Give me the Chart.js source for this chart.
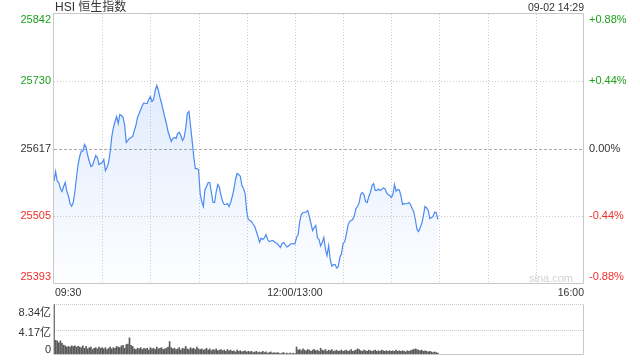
<!DOCTYPE html>
<html><head><meta charset="utf-8">
<script src="https://cdn.jsdelivr.net/npm/chart.js@4/dist/chart.umd.min.js"></script>
<style>
html,body{margin:0;padding:0;background:#fff;width:640px;height:360px;overflow:hidden}
#c1{position:absolute;left:0;top:0}
#c2{position:absolute;left:0;top:300px}
</style></head><body>
<canvas id="c1" width="640" height="300"></canvas>
<canvas id="c2" width="640" height="60"></canvas>
<script>
// ---------- data ----------
const chartTitle = 'HSI 恒生指数';
const stampText = '09-02 14:29';
const watermark = 'sina.com';
const prevClose = 25617;
const priceMin = 25391.6, priceMax = 25842.4;
const priceTicks = [25842, 25730, 25617, 25505, 25393];
const pctTicks = ['+0.88%', '+0.44%', '0.00%', '-0.44%', '-0.88%'];
const gridMinutes = [30, 60, 90, 120, 150, 180, 210, 240, 270, 300];
const timeTickPos = [0, 150, 330];
const timeTickLabels = ['09:30', '12:00/13:00', '16:00'];
const totalMinutes = 330;
const volTicks = [8.34, 4.17, 0];
const volTickLabels = ['8.34亿', '4.17亿', '0'];

// one value per trading minute from 09:30 (12:00 and 13:00 share a slot)
const prices = [
25563.2,25579.4,25563.2,25561.1,25551.0,25546.0,25554.4,25561.1,25546.0,25538.5,
25526.0,25521.5,25527.7,25546.0,25569.4,25591.1,25604.5,25613.3,25613.3,25624.5,
25619.5,25606.1,25596.1,25587.8,25589.4,25597.8,25606.1,25602.8,25591.1,25592.8,
25594.5,25599.5,25581.1,25586.1,25594.5,25613.3,25637.9,25652.9,25662.9,25671.3,
25659.6,25674.6,25672.9,25669.6,25656.2,25627.9,25631.2,25634.5,25636.2,25637.9,
25647.9,25656.2,25669.6,25676.3,25683.0,25689.6,25693.8,25693.0,25693.0,25699.7,
25704.7,25696.3,25699.7,25714.7,25723.0,25714.7,25703.0,25693.0,25681.3,25669.6,
25659.6,25646.2,25637.9,25629.5,25634.5,25636.2,25634.5,25642.9,25644.6,25639.5,
25631.2,25636.2,25651.2,25676.3,25679.6,25656.2,25631.2,25604.5,25584.4,25584.4,
25582.8,25542.7,25529.3,25521.0,25549.4,25554.4,25561.1,25561.1,25544.4,25527.7,
25527.7,25546.0,25557.7,25552.7,25539.3,25529.3,25524.3,25524.3,25526.0,25521.0,
25527.7,25537.7,25549.4,25566.1,25576.1,25574.4,25571.6,25556.0,25551.0,25542.7,
25512.6,25499.3,25497.6,25495.9,25490.9,25487.6,25479.2,25470.9,25461.4,25468.4,
25465.9,25468.4,25474.2,25465.9,25462.5,25463.4,25464.2,25462.5,25460.4,25459.2,
25455.8,25452.5,25459.2,25460.9,25457.5,25453.3,25455.0,25457.5,25459.2,25458.7,
25458.7,25469.2,25474.2,25495.9,25507.6,25511.0,25511.0,25511.8,25514.3,25504.3,
25492.6,25480.9,25485.9,25489.2,25469.2,25465.9,25455.0,25460.9,25469.2,25449.2,
25439.1,25455.8,25432.5,25421.3,25424.1,25424.1,25418.3,25420.8,25435.8,25442.5,
25459.2,25462.5,25474.2,25489.2,25495.9,25497.6,25499.3,25505.9,25517.6,25521.0,
25527.7,25541.0,25544.4,25541.0,25529.3,25527.7,25537.7,25544.4,25556.0,25559.4,
25547.7,25547.7,25550.2,25547.7,25549.4,25551.9,25551.0,25544.4,25541.0,25539.3,
25536.0,25541.0,25557.7,25546.5,25549.4,25548.5,25539.3,25524.3,25526.0,25525.2,
25526.0,25527.7,25524.3,25517.6,25511.8,25499.3,25482.6,25479.2,25485.9,25492.6,
25505.9,25521.0,25518.5,25514.3,25500.9,25502.6,25504.3,25511.5,25511.0,25499.3
];

// volume per minute, in 亿
const volumes = [
8.34,
2.4,2.3,2.0,2.3,1.9,
1.6,1.5,1.3,1.4,1.3,1.5,1.4,1.5,1.3,1.4,
1.3,1.2,1.5,1.1,1.4,1.0,1.2,1.3,0.9,1.1,1.2,1.0,1.3,1.1,1.2,
1.0,1.2,0.9,1.1,1.3,1.0,1.2,1.1,1.4,1.3,1.2,1.5,1.6,1.1,1.7,1.8,
2.8,
1.6,1.4,1.0,0.9,1.1,1.0,1.2,0.9,1.1,
1.0,1.1,0.8,1.2,1.0,1.1,0.9,1.3,1.0,1.1,1.2,0.9,1.0,1.1,1.3,
2.2,
1.2,1.0,1.1,0.9,1.0,1.2,0.8,1.1,1.0,1.4,1.0,0.9,1.2,1.0,1.1,0.9,1.3,1.0,
0.9,1.0,0.8,0.9,1.1,0.8,1.0,0.7,0.9,0.8,1.0,0.7,0.8,0.9,0.7,0.8,0.6,0.9,0.7,0.8,0.6,0.7,0.5,0.8,0.6,0.7,0.5,0.6,0.7,0.5,
0.6,0.5,0.6,0.4,0.5,0.6,0.4,0.5,0.4,0.6,0.4,0.5,0.3,0.4,0.5,0.3,0.4,0.3,0.4,0.3,0.2,0.3,0.4,0.2,0.3,0.2,0.3,0.2,0.3,0.2,
1.3,
0.8,0.9,0.7,1.0,0.8,0.7,0.9,0.8,0.6,0.8,0.9,0.7,0.8,0.6,1.1,0.8,0.7,0.9,0.6,0.8,0.7,0.9,0.6,0.7,0.8,0.6,0.7,0.8,0.6,
0.7,0.8,0.6,0.7,0.9,0.6,0.7,0.8,1.0,0.9,0.7,0.6,0.8,0.7,0.6,0.8,0.7,0.6,0.7,0.8,0.6,0.7,0.6,0.8,0.7,0.6,0.7,0.6,0.7,0.6,
0.7,0.6,0.8,0.6,0.7,0.6,0.7,0.6,0.5,0.7,0.6,0.7,0.8,0.9,1.0,0.9,0.8,0.7,0.8,0.6,0.7,0.6,0.5,0.6,0.5,0.4,0.5,0.4,0.3
];

// ---------- styling ----------
const FONT = "'Liberation Sans', Arial, 'Noto Sans CJK SC', sans-serif";
const GREEN = '#1ea01e', RED = '#f0302a', DARK = '#333333';
const BORDER = '#c8c8c8', GRID = '#cccccc';

function hline(ctx, x1, x2, y) { ctx.beginPath(); ctx.moveTo(x1, y); ctx.lineTo(x2, y); ctx.stroke(); }
function vline(ctx, x, y1, y2) { ctx.beginPath(); ctx.moveTo(x, y1); ctx.lineTo(x, y2); ctx.stroke(); }
const snap = v => Math.round(v) + 0.5;

const mainDeco = {
  id: 'mainDeco',
  beforeDatasetsDraw(chart) {
    const { ctx, chartArea: a, scales: { x, y } } = chart;
    ctx.save();
    ctx.lineWidth = 1;
    ctx.strokeStyle = GRID;
    ctx.setLineDash([1, 2]);
    gridMinutes.forEach(m => vline(ctx, snap(x.getPixelForValue(m)), a.top, a.bottom));
    priceTicks.forEach((v, i) => {
      if (i === 0 || i === priceTicks.length - 1) return;
      const py = snap(y.getPixelForValue(v));
      if (v === prevClose) { ctx.setLineDash([3, 2]); ctx.strokeStyle = '#aaaaaa'; }
      else { ctx.setLineDash([1, 2]); ctx.strokeStyle = GRID; }
      hline(ctx, a.left, a.right, py);
    });
    ctx.restore();
  },
  afterDraw(chart) {
    const { ctx, chartArea: a, scales: { x, y } } = chart;
    ctx.save();
    ctx.setLineDash([]);
    ctx.strokeStyle = BORDER; ctx.lineWidth = 1;
    const L = snap(a.left) - 1, R = snap(a.right) - 1, T = snap(a.top) - 1, B = snap(a.bottom) - 1;
    ctx.beginPath(); ctx.moveTo(L, B); ctx.lineTo(L, T); ctx.lineTo(R, T); ctx.lineTo(R, B); ctx.lineTo(L, B); ctx.stroke();

    ctx.textBaseline = 'middle';
    ctx.font = '11px ' + FONT;
    priceTicks.forEach((v, i) => {
      let py = y.getPixelForValue(v);
      if (i === 0) py += 6; else if (i === priceTicks.length - 1) py -= 6;
      const col = v > prevClose ? GREEN : (v < prevClose ? RED : DARK);
      ctx.fillStyle = col;
      ctx.textAlign = 'right'; ctx.fillText(String(v), a.left - 3, py);
      ctx.textAlign = 'left'; ctx.fillText(pctTicks[i], a.right + 5, py);
    });

    ctx.font = '10.5px ' + FONT; ctx.fillStyle = DARK;
    timeTickPos.forEach((m, i) => {
      const px = x.getPixelForValue(m);
      ctx.textAlign = i === 0 ? 'left' : (i === timeTickPos.length - 1 ? 'right' : 'center');
      ctx.fillText(timeTickLabels[i], i === 0 ? px + 1 : px, a.bottom + 9.5);
    });

    ctx.font = '12px ' + FONT; ctx.fillStyle = DARK; ctx.textAlign = 'left';
    ctx.fillText(chartTitle, a.left + 1, 8);
    ctx.font = '10.5px ' + FONT; ctx.textAlign = 'right';
    ctx.fillText(stampText, a.right, 8);

    ctx.font = '11px ' + FONT; ctx.fillStyle = '#d2d2d2'; ctx.textAlign = 'right';
    ctx.fillText(watermark, a.right - 11, a.bottom - 5);
    ctx.restore();
  }
};

const volDeco = {
  id: 'volDeco',
  beforeDatasetsDraw(chart) {
    const { ctx, chartArea: a, scales: { y } } = chart;
    ctx.save();
    ctx.lineWidth = 1; ctx.strokeStyle = GRID; ctx.setLineDash([1, 1]);
    volTicks.forEach(v => { if (v > 0) hline(ctx, a.left, a.right, snap(y.getPixelForValue(v))); });
    ctx.restore();
  },
  afterDraw(chart) {
    const { ctx, chartArea: a, scales: { y } } = chart;
    ctx.save();
    ctx.strokeStyle = BORDER; ctx.lineWidth = 1; ctx.setLineDash([]);
    const L = snap(a.left) - 1, R = snap(a.right) - 1, B = snap(a.bottom) - 1, T = snap(a.top);
    ctx.beginPath(); ctx.moveTo(L, T); ctx.lineTo(L, B); ctx.lineTo(R, B); ctx.lineTo(R, T); ctx.stroke();
    ctx.font = '11px ' + FONT; ctx.fillStyle = DARK; ctx.textAlign = 'right'; ctx.textBaseline = 'middle';
    volTicks.forEach((v, i) => {
      let py = y.getPixelForValue(v);
      if (i === 0) py += 8.5; else if (i === volTicks.length - 1) py -= 5.5; else py += 3.5;
      ctx.fillText(volTickLabels[i], a.left - 3, py);
    });
    ctx.restore();
  }
};

Chart.defaults.font.family = FONT;

new Chart(document.getElementById('c1'), {
  type: 'line',
  data: {
    datasets: [{
      data: prices.map((v, i) => ({ x: i, y: v })),
      borderColor: '#4a8af2',
      borderWidth: 1.2,
      pointRadius: 0,
      tension: 0,
      fill: 'start',
      backgroundColor: (c) => {
        const a = c.chart.chartArea;
        if (!a) return 'rgba(74,138,242,0.1)';
        const g = c.chart.ctx.createLinearGradient(0, a.top, 0, a.bottom);
        g.addColorStop(0, 'rgba(74,138,242,0.22)');
        g.addColorStop(1, 'rgba(74,138,242,0.01)');
        return g;
      }
    }]
  },
  options: {
    responsive: false, animation: false, events: [],
    layout: { padding: { left: 54, right: 56, top: 14, bottom: 16 } },
    plugins: { legend: { display: false }, tooltip: { enabled: false } },
    scales: {
      x: { type: 'linear', min: 0, max: totalMinutes, display: false },
      y: { type: 'linear', min: priceMin, max: priceMax, display: false }
    }
  },
  plugins: [mainDeco]
});

new Chart(document.getElementById('c2'), {
  type: 'bar',
  data: {
    datasets: [{
      data: volumes.map((v, i) => ({ x: i, y: v })),
      backgroundColor: '#5a5a5a',
      borderWidth: 0,
      barThickness: 1
    }]
  },
  options: {
    responsive: false, animation: false, events: [],
    layout: { padding: { left: 54, right: 56, top: 4, bottom: 5 } },
    plugins: { legend: { display: false }, tooltip: { enabled: false } },
    scales: {
      x: { type: 'linear', min: 0, max: totalMinutes, display: false, offset: false },
      y: { type: 'linear', min: 0, max: 8.34, display: false }
    }
  },
  plugins: [volDeco]
});
</script>
</body></html>
